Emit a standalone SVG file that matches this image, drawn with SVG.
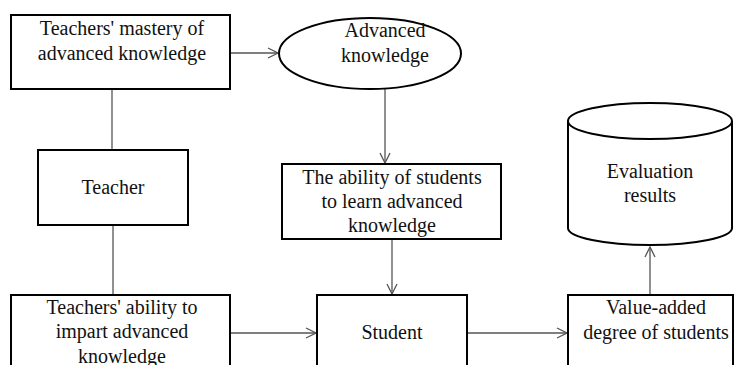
<svg xmlns="http://www.w3.org/2000/svg" width="734" height="365" viewBox="0 0 734 365">
<style>
.n{fill:#fff;stroke:#000;stroke-width:2}
.t{fill:#111;text-anchor:middle;font-family:'Liberation Serif','Times New Roman',serif;font-size:20px}
.c{stroke:#555;stroke-width:1.3;fill:none}
</style>
<defs>
<marker id="a" viewBox="0 0 12 12" refX="11" refY="6" markerWidth="12" markerHeight="12" markerUnits="userSpaceOnUse" orient="auto">
<path d="M1,1 L11,6 L1,11" fill="none" stroke="#555" stroke-width="1.3"/>
</marker>
</defs>
<rect width="734" height="365" fill="#fff"/>
<g id="connectors">
<line class="c" x1="230" y1="53" x2="278" y2="53" marker-end="url(#a)"/>
<line class="c" x1="385" y1="89" x2="385" y2="163" marker-end="url(#a)"/>
<line class="c" x1="392" y1="239" x2="392" y2="294" marker-end="url(#a)"/>
<line class="c" x1="112" y1="89" x2="112" y2="150"/>
<line class="c" x1="113" y1="225" x2="113" y2="295"/>
<line class="c" x1="231" y1="333" x2="316" y2="333" marker-end="url(#a)"/>
<line class="c" x1="467" y1="333" x2="567" y2="333" marker-end="url(#a)"/>
<line class="c" x1="650" y1="295" x2="650" y2="247" marker-end="url(#a)"/>
</g>
<g id="mastery">
<rect class="n" x="11" y="15" width="219" height="74"/>
<text class="t" x="122" y="35">Teachers' mastery of</text>
<text class="t" x="122" y="60">advanced knowledge</text>
</g>
<g id="advanced">
<ellipse class="n" cx="370" cy="53.5" rx="91" ry="35.5"/>
<text class="t" x="385" y="37">Advanced</text>
<text class="t" x="385" y="62">knowledge</text>
</g>
<g id="teacher">
<rect class="n" x="38" y="150" width="150" height="75"/>
<text class="t" x="113" y="194">Teacher</text>
</g>
<g id="ability">
<rect class="n" x="282" y="164" width="219" height="75"/>
<text class="t" x="392" y="184">The ability of students</text>
<text class="t" x="392" y="208">to learn advanced</text>
<text class="t" x="392" y="232">knowledge</text>
</g>
<g id="impart">
<rect class="n" x="11" y="295" width="219" height="90"/>
<text class="t" x="122" y="314">Teachers' ability to</text>
<text class="t" x="122" y="338">impart advanced</text>
<text class="t" x="122" y="363">knowledge</text>
</g>
<g id="student">
<rect class="n" x="317" y="295" width="150" height="90"/>
<text class="t" x="392" y="339">Student</text>
</g>
<g id="valueadded">
<rect class="n" x="568" y="295" width="165" height="90"/>
<text class="t" x="656" y="314">Value-added</text>
<text class="t" x="656" y="339">degree of students</text>
</g>
<g id="evaluation">
<path class="n" d="M568,121 L568,228 A82,17 0 0 0 732,228 L732,121"/>
<ellipse class="n" cx="650" cy="121" rx="82" ry="18"/>
<text class="t" x="650" y="178">Evaluation</text>
<text class="t" x="650" y="202">results</text>
</g>
</svg>
